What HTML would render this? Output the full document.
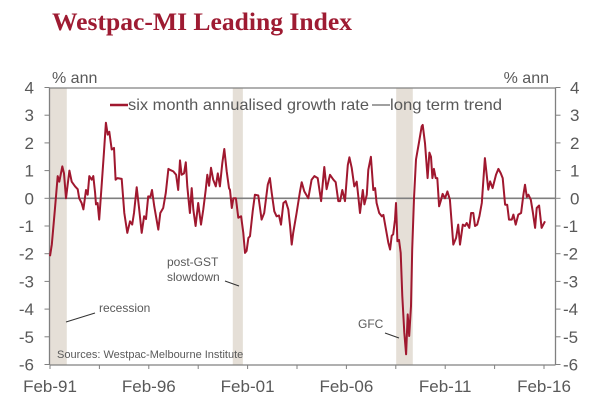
<!DOCTYPE html>
<html><head><meta charset="utf-8"><style>
html,body{margin:0;padding:0;background:#fff;}
svg{display:block;font-family:"Liberation Sans",sans-serif;}
</style></head><body>
<svg id="chart" width="608" height="410" viewBox="0 0 608 410">
<text x="52" y="30" font-family="Liberation Serif, serif" font-weight="bold" font-size="25.5" textLength="300" lengthAdjust="spacingAndGlyphs" fill="#9e1b32">Westpac-MI Leading Index</text>
<text x="52" y="83" font-size="16" fill="#595959">% ann</text>
<text x="549" y="83" font-size="16" fill="#595959" text-anchor="end">% ann</text>
<g id="bands"></g>
<g id="axes"></g>
<path id="series" fill="none" stroke="#a0182f" stroke-width="2" stroke-linejoin="round"></path>
<g>
<line x1="110" y1="105" x2="128" y2="105" stroke="#a0182f" stroke-width="2.5"/>
<text x="128" y="110" font-size="16" textLength="241" lengthAdjust="spacingAndGlyphs" fill="#595959">six month annualised growth rate</text>
<line x1="372" y1="105" x2="390" y2="105" stroke="#808080" stroke-width="1.5"/>
<text x="390" y="110" font-size="16" textLength="112" lengthAdjust="spacingAndGlyphs" fill="#595959">long term trend</text>
</g>
<text x="167" y="266" font-size="12" fill="#595959">post-GST</text>
<text x="167" y="281" font-size="12" fill="#595959">slowdown</text>
<line x1="225" y1="281" x2="239" y2="286" stroke="#333" stroke-width="1"/>
<text x="99" y="312" font-size="12" fill="#595959">recession</text>
<line x1="95" y1="313" x2="66" y2="322" stroke="#333" stroke-width="1"/>
<text x="358" y="328" font-size="12" fill="#595959">GFC</text>
<line x1="385" y1="333" x2="399" y2="338" stroke="#333" stroke-width="1"/>
<text x="57" y="358" font-size="11" fill="#595959">Sources: Westpac-Melbourne Institute</text>
</svg>
<script>
const dates=[1991.08,1991.17,1991.33,1991.47,1991.55,1991.70,1991.79,1991.89,1992.06,1992.18,1992.35,1992.48,1992.56,1992.68,1992.77,1992.90,1992.99,1993.07,1993.19,1993.27,1993.36,1993.41,1993.49,1993.57,1993.70,1993.81,1993.91,1994.00,1994.08,1994.20,1994.32,1994.40,1994.49,1994.71,1994.84,1994.99,1995.13,1995.24,1995.33,1995.47,1995.58,1995.72,1995.84,1995.94,1996.05,1996.16,1996.24,1996.36,1996.56,1996.66,1996.81,1996.94,1997.07,
1997.15,1997.32,1997.46,1997.57,1997.66,1997.74,1997.86,1997.95,1998.03,1998.11,1998.16,1998.25,1998.33,1998.45,1998.58,1998.72,1998.84,1998.96,1999.04,1999.13,1999.23,1999.34,1999.47,1999.57,1999.68,1999.80,1999.90,2000.02,2000.14,2000.19,2000.28,2000.36,2000.49,2000.61,2000.75,2000.86,2000.95,2001.03,2001.12,2001.20,2001.34,2001.45,2001.62,2001.79,2001.92,2002.10,2002.21,2002.30,2002.43,2002.55,2002.67,2002.77,2002.89,2003.01,2003.14,2003.23,2003.31,2003.39,2003.56,2003.73,
2003.82,2003.95,2004.15,2004.32,2004.46,2004.63,2004.80,2004.96,2005.08,2005.25,2005.42,2005.54,2005.67,2005.76,2005.87,2006.01,2006.15,2006.23,2006.35,2006.48,2006.60,2006.68,2006.77,2006.91,2006.99,2007.11,2007.19,2007.32,2007.44,2007.53,2007.61,2007.74,2007.87,2007.95,2008.07,2008.20,2008.29,2008.37,2008.45,2008.54,2008.59,2008.66,2008.74,2008.83,2008.91,2009.01,2009.10,2009.18,2009.26,2009.35,2009.41,2009.50,2009.60,2009.75,2009.89,2009.94,
2010.06,2010.19,2010.28,2010.36,2010.43,2010.51,2010.60,2010.68,2010.77,2010.85,2010.95,2011.07,2011.19,2011.32,2011.49,2011.63,2011.74,2011.83,2011.97,2012.08,2012.17,2012.30,2012.39,2012.50,2012.59,2012.70,2012.81,2012.93,2013.09,2013.26,2013.35,2013.48,2013.65,2013.77,2013.89,2013.99,2014.11,2014.22,2014.31,2014.45,2014.53,2014.65,2014.78,2014.92,2015.04,2015.12,2015.21,2015.29,2015.41,2015.51,2015.63,2015.71,2015.83,2015.96,2016.13];
const growth=[-2.09,-1.67,-0.4,0.8,0.6,1.15,0.9,0,1.0,0.6,0.43,0.33,0,-0.17,-0.4,0.3,0.13,0.8,0.67,0.8,0.2,-0.22,-0.17,-0.77,0.55,1.63,2.73,2.3,2.4,1.76,1.82,0.67,0.73,0.7,-0.53,-1.25,-0.83,-0.95,-0.53,0.4,-0.3,-1.25,-0.65,-0.75,0.07,0.05,0.3,-0.3,-1.13,-0.53,-0.35,0.2,1.06,
1.03,0.97,0.85,0.3,1.37,0.85,0.9,1.3,0.43,-0.17,-0.53,0.37,-0.4,-1.0,-0.17,-0.95,-0.4,0.3,0.85,0.45,1.1,0.67,0.43,0.9,0.43,1.27,1.78,0.97,0.37,0.3,-0.35,0,0,-0.7,-0.65,-1.25,-1.97,-1.9,-1.43,-1.37,-0.47,0.13,0.1,-0.77,-0.53,0.5,0.73,0.2,-0.47,-0.65,-0.62,-0.95,-0.17,-0.1,-0.4,-1.0,-1.67,-1.25,-0.53,0.25,
0.58,0.25,0,0.67,0.8,0.73,-0.1,1.13,0.33,0.85,0.67,0.58,-0.1,-0.1,0.3,-0.1,1.2,1.48,1.1,0.43,0.6,0.07,-0.53,0.3,-0.22,0.13,1.03,1.5,0.3,0.37,-0.17,-0.53,-0.65,-0.6,-1.07,-1.6,-1.85,-1.35,-1.3,-0.77,-0.17,-1.55,-1.5,-1.97,-3.53,-4.85,-5.63,-4.19,-4.97,-3.89,-1.85,0,1.4,2.0,2.6,2.65,
1.99,0.73,1.65,1.5,0.73,1.06,0.73,0.73,-0.29,-0.1,0.16,0,0.25,-0.05,-1.67,-1.43,-0.95,-1.67,-0.95,-1.0,-0.89,-1.07,-0.53,-0.53,-1.0,-0.95,-0.65,-0.17,1.45,0.31,0.61,0.37,0.85,1.06,0.91,0.73,-0.23,-0.23,-0.77,-0.77,-0.59,-0.95,-0.59,-0.53,0.13,0.49,0.05,0.13,-0.05,-0.47,-1.07,-0.35,-0.26,-1.07,-0.83];
const yTicks=[4,3,2,1,0,-1,-2,-3,-4,-5,-6];
const xTickYears=[1991.08,1993.58,1996.08,1998.58,2001.08,2003.58,2006.08,2008.58,2011.08,2013.58,2016.08];
const xLabels=["Feb-91","Feb-96","Feb-01","Feb-06","Feb-11","Feb-16"];
const xLabelYears=[1991.08,1996.08,2001.08,2006.08,2011.08,2016.08];
const bandStarts=[1991.08,2000.33,2008.60];
const bandEnds=[1991.93,2000.84,2009.44];

const L=49.5,R=555.5,T=88,B=365;
const x=yr=>50+(yr-1991.08)*19.76;
const y=v=>198.3-v*27.7;
const NS="http://www.w3.org/2000/svg";
function mk(tag,attrs,parent){const e=document.createElementNS(NS,tag);for(const k in attrs)e.setAttribute(k,attrs[k]);parent.appendChild(e);return e;}
const bands=document.getElementById('bands'),axes=document.getElementById('axes');
bandStarts.forEach((s,i)=>{
  const r=mk('rect',{x:x(s),y:T,width:x(bandEnds[i])-x(s),height:B-T,fill:'#e5dfd7'},bands);
  
  
});
let ln=mk('line',{x1:L,y1:T,x2:R,y2:T,stroke:'#808080','stroke-width':1.3},axes);


ln=mk('line',{x1:L,y1:T,x2:L,y2:B,stroke:'#808080','stroke-width':1.3},axes);


ln=mk('line',{x1:R,y1:T,x2:R,y2:B,stroke:'#808080','stroke-width':1.3},axes);


ln=mk('line',{x1:L,y1:B,x2:R,y2:B,stroke:'#808080','stroke-width':1.3},axes);


ln=mk('line',{x1:L,y1:y(0),x2:R,y2:y(0),stroke:'#7f7f7f','stroke-width':1.6},axes);


yTicks.forEach(v=>{
  const t1=mk('line',{x1:L-5,y1:y(v),x2:L,y2:y(v),stroke:'#808080'},axes);
  
  
  const t2=mk('line',{x1:R,y1:y(v),x2:R+5,y2:y(v),stroke:'#808080'},axes);
  
  
  const a=mk('text',{x:34,y:y(v)+6,'font-size':17,fill:'#595959','text-anchor':'end'},axes);
  a.textContent=String(v);
  
  
  const b=mk('text',{x:v<0?563:570,y:y(v)+6,'font-size':17,fill:'#595959'},axes);
  b.textContent=String(v);
  
  
});
xTickYears.forEach(t=>{
  const k=mk('line',{x1:x(t),y1:B,x2:x(t),y2:B+4,stroke:'#808080'},axes);
  
  
});
xLabels.forEach((s,i)=>{
  const tx=mk('text',{x:x(xLabelYears[i]),y:392,'font-size':17,fill:'#595959','text-anchor':'middle'},axes);
  tx.textContent=s;
  
  
});
document.getElementById('series').setAttribute('d',dates.map((d,i)=>(i?'L':'M')+x(d).toFixed(1)+' '+y(growth[i]).toFixed(1)).join(' '));
</script>
</body></html>
